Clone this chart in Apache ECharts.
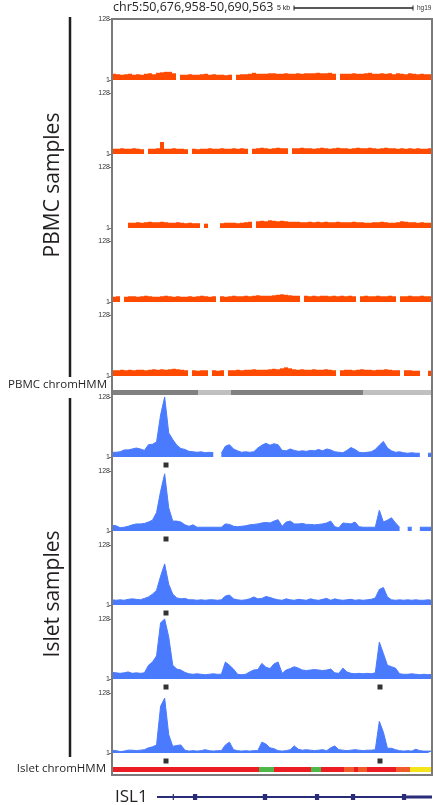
<!DOCTYPE html>
<html><head><meta charset="utf-8">
<script src="https://cdn.jsdelivr.net/npm/echarts@6/dist/echarts.min.js"></script>
<style>html,body{margin:0;padding:0;background:#fff}#c{width:433px;height:805px}</style>
</head><body><div id="c"></div>
<script>
// ---------------- DATA ----------------
const regionStart = 50676958, regionEnd = 50690563;
const binCount = 80;
const yTicks = [1, 128];

const pbmc1 = [14,13,12,13,14,12,13,12,14,15,13,16,17,18,18,15,null,12,12,13,12,12,13,14,12,13,12,12,11,12,null,12,13,13,14,16,14,14,14,15,15,14,14,15,14,14,15,14,15,15,15,16,15,15,16,14,null,14,14,14,15,14,14,15,16,14,14,15,14,15,13,15,14,13,15,14,13,14,13,13];
const pbmc2 = [12,12,13,12,12,13,12,11,null,12,12,13,26,12,12,13,12,12,11,null,12,11,12,12,13,12,12,13,12,12,13,12,13,12,null,12,13,14,13,12,13,14,13,13,null,13,13,14,13,13,12,13,14,13,12,13,14,13,13,12,13,14,13,13,14,13,12,13,14,13,13,12,13,12,13,12,13,12,12,13];
const pbmc3 = [null,null,null,null,12,12,13,12,13,14,13,13,14,13,12,12,13,12,11,12,11,11,null,10,null,null,null,11,12,12,12,11,12,13,14,null,15,16,15,17,16,15,16,15,14,14,14,13,13,14,13,14,13,14,13,13,14,13,13,13,14,13,13,12,12,13,13,14,13,12,12,13,15,14,13,13,12,13,12,12];
const pbmc4 = [12,13,null,12,13,13,12,13,14,13,12,12,13,14,13,12,13,12,12,13,12,13,14,13,12,13,null,13,12,13,14,13,13,14,13,14,15,14,14,14,15,16,17,16,15,14,14,null,14,13,14,13,14,14,13,14,13,14,13,14,13,null,13,14,13,13,14,13,13,14,13,null,13,13,14,13,13,14,13,13];
const pbmc5 = [13,13,14,13,14,13,14,14,13,14,15,14,15,14,15,16,15,14,13,null,13,12,13,13,null,13,12,13,null,13,13,14,13,14,14,15,14,14,14,15,16,15,17,19,17,15,14,15,14,14,15,14,14,15,14,13,null,13,14,14,13,14,15,14,14,13,14,14,15,14,13,13,null,13,13,12,12,null,null,12];

const islet1 = [11,11,12,16,16,18,20,18,15,27,28,33,90,128,52,38,26,19,17,13,12,11,12,10,11,10,null,9,24,27,18,14,11,12,11,12,20,26,30,26,29,27,15,14,18,15,13,14,13,15,14,17,14,18,16,12,11,10,15,21,17,11,10,11,12,17,26,34,20,14,11,12,10,9,10,9,9,null,9,9];
const islet2 = [13,12,8,9,11,14,16,16,17,20,24,40,85,122,50,22,22,20,14,11,14,9,9,9,9,9,9,9,16,15,11,10,11,12,14,15,16,18,19,18,22,25,11,20,22,16,16,17,15,15,14,15,16,18,22,10,8,18,17,16,20,10,9,9,9,9,45,20,24,29,18,9,null,9,9,null,9,9,9,9];
const islet3 = [12,11,12,11,13,14,13,12,15,18,24,32,62,88,45,24,16,14,15,12,12,11,12,11,12,12,11,12,20,22,14,12,11,12,14,18,14,15,19,17,14,12,11,14,12,11,13,12,11,14,12,11,13,15,11,14,12,11,12,13,11,12,11,12,13,16,34,38,18,12,11,12,11,12,11,12,11,11,12,11];
const islet4 = [15,14,13,14,16,13,14,13,14,30,37,50,120,128,90,30,22,20,15,12,11,12,11,10,11,12,11,11,37,30,22,11,10,11,16,20,21,34,26,23,33,37,13,20,23,27,24,20,19,20,21,20,19,20,22,14,13,24,16,13,12,13,12,13,12,14,79,55,30,27,24,12,11,11,12,11,10,11,10,11];
const islet5 = [7,6,4,5,7,7,6,7,8,12,14,18,100,117,40,15,17,18,7,5,6,5,6,8,6,5,6,6,18,24,8,6,5,6,5,6,6,24,20,12,10,6,5,6,8,16,9,7,8,7,6,7,8,6,12,16,8,7,6,7,8,7,6,7,7,8,68,45,11,11,8,6,5,6,5,9,6,5,5,5];

// peak calls (genomic positions) under each islet track
const isletPeaks = [[50679254],[50679254],[50679254],[50679254,50688352],[50679254,50688352]];

// chromHMM segments
const pbmcHmmBounds = [50676958, 50680614, 50682017, 50687629, 50690563];
const pbmcHmmStates = ['dark','light','dark','light'];
const isletHmmBounds = [50676958, 50683208, 50683846, 50685419, 50685844, 50686822, 50687247, 50687417, 50687799, 50689032, 50689627, 50690563];
const isletHmmStates = ['red','green','red','green','red','orange','red','orange','red','orange','yellow'];

// gene ISL1
const geneName = 'ISL1';
const geneStart = 50678871, geneEnd = 50690563;
const exonStarts = [50679540, 50680400, 50683370, 50685585, 50687115, 50689285];
const exonEnds   = [50679565, 50680580, 50683555, 50685765, 50687295, 50689465];
const utrStart = 50689465, utrEnd = 50690563;

// ---------------- STYLE ----------------
const stateColors = {dark:'#808080', light:'#c0c0c0', red:'#ec1c24', green:'#4db748', orange:'#f15a29', yellow:'#f4e51b'};
const orange = '#ff4a00', blue = '#4a7bff', navy = '#2b2c78', ink = '#231f20';
const binStarts = Array.from({length: binCount}, (_, i) => String(Math.round(regionStart + i * (regionEnd - regionStart) / binCount)));

const grids = [], xAxes = [], yAxes = [], series = [];
const L = 112, W = 320;

function yAxisFor(gi) {
  return {type:'value', gridIndex: gi, min: 1, max: 128,
    axisLine:{show:false}, splitLine:{show:false},
    axisTick:{show:true, customValues: yTicks, length: 3, lineStyle:{color:'#777', width:1}},
    axisLabel:{show:true, customValues: yTicks, fontSize: 7, color:'#333', margin: 2, fontFamily:'Liberation Sans'}};
}
function addBarTrack(top, height, values, color) {
  const gi = grids.length;
  grids.push({left: L, width: W, top, height});
  xAxes.push({type:'category', gridIndex: gi, data: binStarts, show: false, boundaryGap: true});
  yAxes.push(yAxisFor(gi));
  series.push({type:'bar', xAxisIndex: gi, yAxisIndex: gi, data: values, barWidth:'100%', barCategoryGap:'0%',
    itemStyle:{color}, clip: true, silent: true});
}
function addAreaTrack(top, height, values, color) {
  const gi = grids.length;
  grids.push({left: L, width: W, top, height});
  xAxes.push({type:'category', gridIndex: gi, data: binStarts, show: false, boundaryGap: false});
  yAxes.push(yAxisFor(gi));
  series.push({type:'line', xAxisIndex: gi, yAxisIndex: gi, data: values, symbol:'none', connectNulls: false,
    lineStyle:{color, width: 1}, areaStyle:{color, opacity: 1, origin:'start'}, clip: true, silent: true});
}
function addValueGrid(top, height) {
  const gi = grids.length;
  grids.push({left: L, width: W, top, height});
  xAxes.push({type:'value', gridIndex: gi, min: regionStart, max: regionEnd, show: false});
  yAxes.push({type:'value', gridIndex: gi, min: 0, max: 1, show: false});
  return gi;
}
function addHMM(top, bounds, states) {
  const gi = addValueGrid(top, 5);
  const data = states.map((s, i) => [bounds[i], bounds[i+1]]);
  series.push({type:'custom', xAxisIndex: gi, yAxisIndex: gi, data, encode:{x:[0,1]}, silent: true,
    renderItem: (params, api) => {
      const p0 = api.coord([api.value(0), 1]), p1 = api.coord([api.value(1), 0]);
      return {type:'rect', shape:{x:p0[0], y:p0[1], width:p1[0]-p0[0], height:p1[1]-p0[1]},
        style:{fill: stateColors[states[params.dataIndex]]}};
    }});
}
function addPeaks(top, peaks) {
  const gi = grids.length;
  grids.push({left: L, width: W, top, height: 6});
  xAxes.push({type:'value', gridIndex: gi, min: regionStart, max: regionEnd, show: false});
  yAxes.push({type:'value', gridIndex: gi, min: -1, max: 1, show: false});
  series.push({type:'scatter', xAxisIndex: gi, yAxisIndex: gi, data: peaks.map(p => [p, 0]),
    symbol:'rect', symbolSize: 5, itemStyle:{color:'#000'}, silent: true});
}

const pbmc = [pbmc1, pbmc2, pbmc3, pbmc4, pbmc5];
const islet = [islet1, islet2, islet3, islet4, islet5];
pbmc.forEach((v, i) => addBarTrack(19 + 74 * i, 61, v, orange));
addHMM(390, pbmcHmmBounds, pbmcHmmStates);
islet.forEach((v, i) => {
  addAreaTrack(397 + 74 * i, 60, v, blue);
  addPeaks(397 + 74 * i + 60 + 5, isletPeaks[i]);
});
addHMM(767, isletHmmBounds, isletHmmStates);

// gene track
const gg = addValueGrid(790, 14);
yAxes[gg].min = -1; yAxes[gg].max = 1;
series.push({type:'line', xAxisIndex: gg, yAxisIndex: gg, data: [[geneStart, 0], [geneEnd, 0]], symbol:'none',
  lineStyle:{color: navy, width: 2}, silent: true});
const exonData = exonStarts.map((s, i) => [s, exonEnds[i], 6]).concat([[utrStart, utrEnd, 3]]);
series.push({type:'custom', xAxisIndex: gg, yAxisIndex: gg, data: exonData, encode:{x:[0,1]}, silent: true,
  renderItem: (params, api) => {
    const p0 = api.coord([api.value(0), 0]), p1 = api.coord([api.value(1), 0]);
    const h = api.value(2);
    const w = Math.max(1.2, p1[0] - p0[0]);
    return {type:'rect', shape:{x:p0[0], y:p0[1] - h/2, width:w, height:h}, style:{fill: navy}};
  }});

const graphic = [
  {type:'rect', z: 100, shape:{x:112, y:19, width:320, height:756}, style:{fill:'none', stroke:'#7a7a7a', lineWidth:2}},
  {type:'text', z: 100, x: 113, y: 7, style:{text:'chr5:50,676,958-50,690,563', font:'12.5px "Open Sans"', fill: ink, verticalAlign:'middle'}},
  {type:'text', z: 100, x: 277, y: 8, style:{text:'5 kb', font:'7px "Liberation Sans"', fill: ink, verticalAlign:'middle'}},
  {type:'line', z: 100, shape:{x1:294, y1:8, x2:413, y2:8}, style:{stroke: ink, lineWidth:1.5}},
  {type:'line', z: 100, shape:{x1:294, y1:5.5, x2:294, y2:10.5}, style:{stroke: ink, lineWidth:1}},
  {type:'line', z: 100, shape:{x1:413, y1:5.5, x2:413, y2:10.5}, style:{stroke: ink, lineWidth:1}},
  {type:'text', z: 100, x: 417, y: 8.5, style:{text:'hg19', font:'6.5px "Liberation Sans"', fill:'#333', verticalAlign:'middle'}},
  {type:'line', z: 100, shape:{x1:70, y1:17, x2:70, y2:377}, style:{stroke: ink, lineWidth:2.5}},
  {type:'line', z: 100, shape:{x1:70, y1:398, x2:70, y2:757}, style:{stroke: ink, lineWidth:2.5}},
  {type:'text', z: 100, x: 53, y: 185, rotation: Math.PI/2, style:{text:'PBMC samples', font:'21px "Open Sans"', fill: ink, align:'center', verticalAlign:'middle'}},
  {type:'text', z: 100, x: 53, y: 594, rotation: Math.PI/2, style:{text:'Islet samples', font:'21px "Open Sans"', fill: ink, align:'center', verticalAlign:'middle'}},
  {type:'text', z: 100, x: 107, y: 385, style:{text:'PBMC chromHMM', font:'11.5px "Open Sans"', fill: ink, align:'right', verticalAlign:'middle'}},
  {type:'text', z: 100, x: 106, y: 769, style:{text:'Islet chromHMM', font:'11.5px "Open Sans"', fill: ink, align:'right', verticalAlign:'middle'}},
  {type:'text', z: 100, x: 115, y: 797, style:{text: geneName, font:'17px "Open Sans"', fill: ink, verticalAlign:'middle'}}
];

const chart = echarts.init(document.getElementById('c'), null, {renderer:'canvas'});
chart.setOption({animation:false, backgroundColor:'#fff', grid: grids, xAxis: xAxes, yAxis: yAxes, series, graphic});
</script></body></html>
